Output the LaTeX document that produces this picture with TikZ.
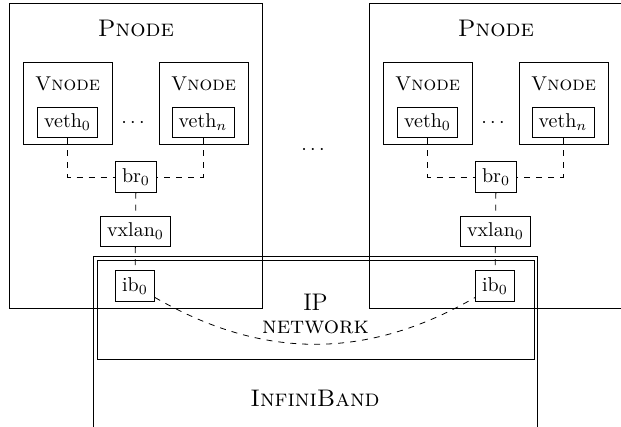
\documentclass[tikz,border=0pt]{standalone}
\usetikzlibrary{positioning}
\begin{document}
\begin{tikzpicture}[x=0.5pt, y=-0.5pt,
    pbox/.style={draw, minimum width=126.5pt, minimum height=152.5pt},
    vbox/.style={draw, minimum width=44.5pt, minimum height=41pt},
    iface/.style={draw},
    link/.style={dashed}]

  \useasboundingbox (0,0) rectangle (621,427);
  \clip (0,0) rectangle (621,427);

 %physical nodes
  \foreach \o/\s in {0/l, 360/r} {
     \node[pbox] (pnode\s) at (\o+135.5, 155.5) {};
     \node (ptitle\s) at (\o+136, 28) {\large\textsc{Pnode}};

     \node[vbox] (vnodea\s) at (\o+67.5, 103) {};
     \node[vbox] (vnodeb\s) at (\o+203.5, 103) {};
     \node (vtitlea\s) at (\o+67.5, 84) {\textsc{Vnode}};
     \node (vtitleb\s) at (\o+203.5, 84) {\textsc{Vnode}};

     \node[iface] (vetha\s) at (\o+67.5, 122.5) {veth$_0$};
     \node[iface] (vethb\s) at (\o+203, 122.5) {veth$_n$};
     \node (vdots\s) at (\o+133, 123) {$\cdots$};

     \node[iface] (br\s) at (\o+136, 177) {br$_0$};
     \node[iface] (vxlan\s) at (\o+135.5, 231.5) {vxlan$_0$};
     \node[iface] (ib\s) at (\o+135, 286) {ib$_0$};

     \draw[link] (vetha\s.south) |- (br\s.west);
     \draw[link] (vethb\s.south) |- (br\s.east);
     \draw[link] (br\s) -- (vxlan\s);
     \draw[link] (vxlan\s) -- (ib\s);
  }

  \node (pdots) at (313, 150) {$\cdots$};

 %networks
  \node[draw, minimum width=222pt, minimum height=102pt] (ibnet) at (315, 358) {};
  \node[draw, minimum width=218.5pt, minimum height=49.5pt] (ipnet) at (315.5, 309.5) {};
  \node (iptitle) at (315.5, 302) {\large IP};
  \node (nettitle) at (315.5, 327) {\large\textsc{network}};
  \node (ibtitle) at (315, 398) {\large\textsc{InfiniBand}};

  \draw[link] (ibl) to[bend right=30] (ibr);

\end{tikzpicture}
\end{document}
